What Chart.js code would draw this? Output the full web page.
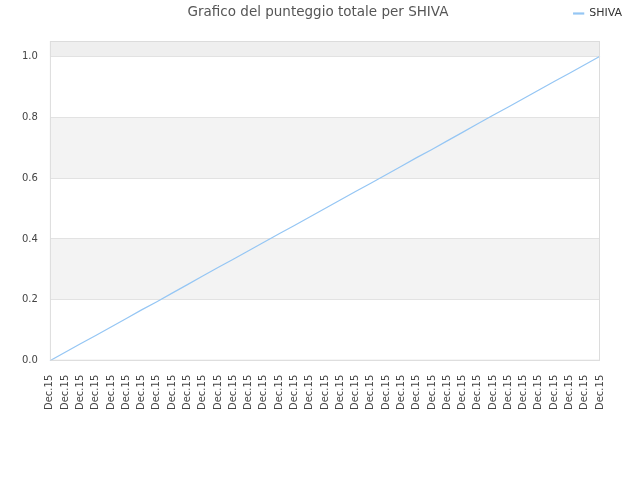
<!DOCTYPE html>
<html>
<head>
<meta charset="utf-8">
<script src="https://cdn.jsdelivr.net/npm/chart.js@4/dist/chart.umd.min.js"></script>
<style>
  html, body { margin: 0; padding: 0; background: #fff; }
  #wrap { width: 640px; height: 480px; }
</style>
</head>
<body>
<div id="wrap"><canvas id="myChart" width="640" height="480"></canvas></div>
<script>
// categorie (asse x)
const labels = [
  "Dec.15", "Dec.15", "Dec.15", "Dec.15", "Dec.15", "Dec.15", "Dec.15", "Dec.15",
  "Dec.15", "Dec.15", "Dec.15", "Dec.15", "Dec.15", "Dec.15", "Dec.15", "Dec.15",
  "Dec.15", "Dec.15", "Dec.15", "Dec.15", "Dec.15", "Dec.15", "Dec.15", "Dec.15",
  "Dec.15", "Dec.15", "Dec.15", "Dec.15", "Dec.15", "Dec.15", "Dec.15", "Dec.15",
  "Dec.15", "Dec.15", "Dec.15", "Dec.15", "Dec.15"
];

// punteggio
const shivaValues = [
  0.000, 0.028, 0.056, 0.083, 0.111, 0.139, 0.167, 0.194, 0.222, 0.250,
  0.278, 0.306, 0.333, 0.361, 0.389, 0.417, 0.444, 0.472, 0.500, 0.528,
  0.556, 0.583, 0.611, 0.639, 0.667, 0.694, 0.722, 0.750, 0.778, 0.806,
  0.833, 0.861, 0.889, 0.917, 0.944, 0.972, 1.000
];

const yTicks = [0, 0.2, 0.4, 0.6, 0.8, 1.0];

// bande grigie alternate + bordo dell'area
const bandPlugin = {
  id: "bands",
  afterInit(chart) {
    // legenda piu' alta, cosi' l'area parte piu' in basso
    const lg = chart.legend;
    if (lg) {
      const origFit = lg.fit.bind(lg);
      lg.fit = function() {
        origFit();
        this.height += 12;
      };
    }
  },
  beforeDraw(chart) {
    const {ctx, chartArea, scales} = chart;
    const y = scales.y;
    ctx.save();
    const bands = [[0.2, 0.4, "#f3f3f3"], [0.6, 0.8, "#f3f3f3"], [1.0, y.max, "#efefef"]];
    bands.forEach(function(b) {
      const top = y.getPixelForValue(b[1]);
      const bottom = y.getPixelForValue(b[0]);
      ctx.fillStyle = b[2];
      ctx.fillRect(chartArea.left, top, chartArea.right - chartArea.left, bottom - top);
    });
    ctx.restore();
  },
  afterDatasetsDraw(chart) {
    const {ctx, chartArea} = chart;
    ctx.save();
    ctx.strokeStyle = "#dcdcdc";
    ctx.lineWidth = 1;
    ctx.strokeRect(chartArea.left + 0.5, chartArea.top + 0.5,
      chartArea.right - chartArea.left - 1, chartArea.bottom - chartArea.top - 1);
    ctx.restore();
  },
  afterDraw(chart) {
    // titolo sulla stessa riga della legenda
    const {ctx} = chart;
    ctx.save();
    ctx.font = "13.5px 'DejaVu Sans'";
    ctx.fillStyle = "#555555";
    ctx.textAlign = "center";
    ctx.textBaseline = "middle";
    ctx.fillText("Grafico del punteggio totale per SHIVA", 318, 12);
    ctx.restore();
  }
};

const data = {
  labels,
  datasets: [
    {
      label: "SHIVA",
      data: shivaValues,
      borderColor: "#95c6f4",
      backgroundColor: "#95c6f4",
      borderWidth: 1.2,
      pointRadius: 0,
      tension: 0,
      fill: false
    }
  ]
};

const config = {
  type: "line",
  data: data,
  plugins: [bandPlugin],
  options: {
    responsive: false,
    animation: false,
    layout: {
      padding: { left: 10, right: 10, top: 0, bottom: 64 }
    },
    scales: {
      y: {
        min: 0,
        max: 1.05,
        afterBuildTicks: function(scale) {
          scale.ticks = yTicks.map(function(v) { return {value: v}; });
        },
        grid: {
          color: "#e2e2e2",
          drawTicks: false
        },
        border: { display: false },
        ticks: {
          color: "#444444",
          padding: 12,
          font: { family: "'DejaVu Sans'", size: 10 },
          callback: function(v) { return Number(v).toFixed(1); }
        }
      },
      // spazio vuoto a destra dell'area
      yRight: {
        position: "right",
        grid: { display: false },
        border: { display: false },
        ticks: { display: false },
        afterFit: function(scale) { scale.width = 30; }
      },
      x: {
        grid: { display: false },
        border: { display: false },
        ticks: {
          color: "#444444",
          autoSkip: false,
          minRotation: 90,
          maxRotation: 90,
          padding: 6,
          font: { family: "'DejaVu Sans'", size: 10 }
        }
      }
    },
    plugins: {
      title: { display: false },
      tooltip: { enabled: false },
      legend: {
        display: true,
        position: "top",
        align: "end",
        labels: {
          color: "#333333",
          boxWidth: 10,
          boxHeight: 1,
          padding: 8,
          font: { family: "'DejaVu Sans'", size: 11 }
        }
      }
    },
    hover: { mode: null }
  }
};

const myChart = new Chart(document.getElementById("myChart"), config);
</script>
</body>
</html>
